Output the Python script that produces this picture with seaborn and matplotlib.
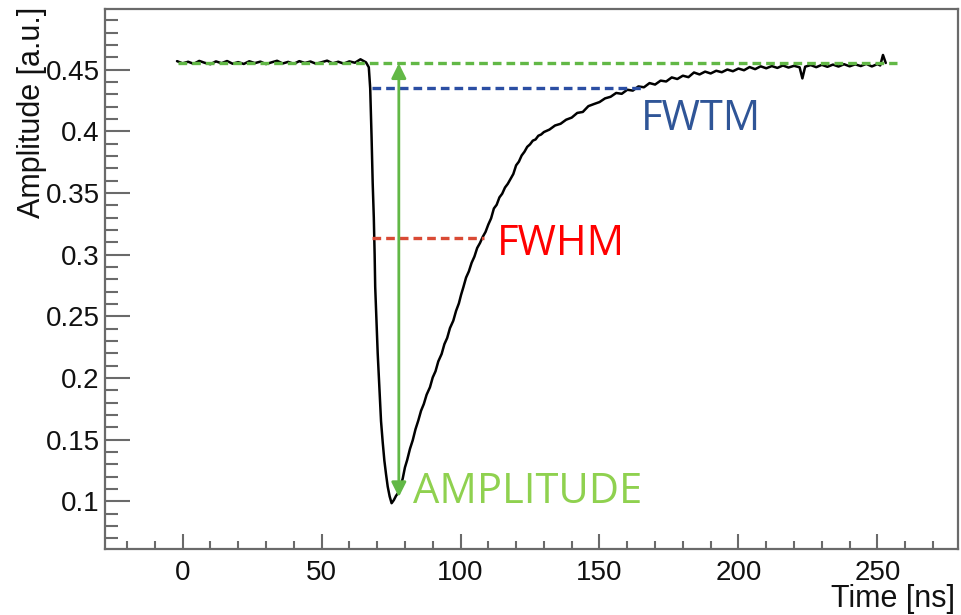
import matplotlib
matplotlib.use("Agg")
import matplotlib.pyplot as plt
import seaborn as sns
import pandas as pd

# ---------------- data ----------------
baseline_time = [-2, 0, 2, 4, 6, 8, 10, 12, 14, 16, 18, 20, 22, 24, 26, 28, 30, 32,
                 34, 36, 38, 40, 42, 44, 46, 48, 50, 52, 54, 56, 58, 60, 62, 64, 66]
baseline_amp = [0.4570, 0.4552, 0.4565, 0.4548, 0.4572, 0.4556, 0.4545, 0.4568, 0.4553,
                0.4571, 0.4549, 0.4562, 0.4547, 0.4569, 0.4554, 0.4566, 0.4546, 0.4560,
                0.4573, 0.4551, 0.4564, 0.4548, 0.4570, 0.4555, 0.4567, 0.4549, 0.4561,
                0.4574, 0.4552, 0.4565, 0.4550, 0.4568, 0.4557, 0.4585, 0.4560]

pulse_time = [67.0, 67.5, 68.0, 68.4, 68.8, 69.1, 69.3, 69.8, 70.2, 70.8, 71.4, 72.0,
              72.6, 73.2, 73.8, 74.5, 75.2, 76.0, 76.8, 77.6, 78.4, 79.2, 80.0, 80.8,
              81.8, 82.8, 83.8, 84.8, 85.8, 86.8, 87.8, 89.0, 90.0, 91.0, 92.0, 93.2,
              94.2, 95.2, 96.2, 97.4, 98.4, 99.4, 100.2, 101.0, 102.0, 103.0, 104.0,
              105.0, 106.0, 107.0, 108.0, 109.0, 110.0, 111.0, 112.0, 113.0, 114.0,
              115.0, 116.0, 117.0, 118.0, 119.0, 120.0, 121.0, 122.0, 123.0, 124.0,
              125.0, 126.0, 127.0, 128.0, 129.0, 130.0]
pulse_amp = [0.4520, 0.4350, 0.3950, 0.3580, 0.3300, 0.3000, 0.2740, 0.2450, 0.2200,
             0.1920, 0.1650, 0.1480, 0.1330, 0.1220, 0.1120, 0.1040, 0.0985, 0.1010,
             0.1045, 0.1070, 0.1120, 0.1185, 0.1275, 0.1335, 0.1425, 0.1495, 0.1585,
             0.1655, 0.1735, 0.1790, 0.1865, 0.1925, 0.2005, 0.2055, 0.2135, 0.2195,
             0.2275, 0.2325, 0.2405, 0.2465, 0.2545, 0.2605, 0.2675, 0.2735, 0.2815,
             0.2865, 0.2935, 0.2985, 0.3055, 0.3095, 0.3145, 0.3185, 0.3245, 0.3295,
             0.3375, 0.3405, 0.3465, 0.3495, 0.3545, 0.3575, 0.3615, 0.3655, 0.3725,
             0.3755, 0.3805, 0.3835, 0.3875, 0.3895, 0.3925, 0.3935, 0.3965, 0.3975,
             0.3995]

tail_time = [132, 134, 136, 138, 140, 142, 144, 146, 148, 150, 152, 154, 156, 158, 160,
             162, 164, 166, 168, 170, 172, 174, 176, 178, 180, 182, 184, 186, 188, 190,
             192, 194, 196, 198, 200, 202, 204, 206, 208, 210, 212, 214, 216, 218, 220,
             222, 223, 224, 226, 228, 230, 232, 234, 236, 238, 240, 242, 244, 246, 248,
             250, 251, 252, 253]
tail_amp = [0.4015, 0.4048, 0.4062, 0.4095, 0.4112, 0.4150, 0.4158, 0.4205, 0.4222,
            0.4238, 0.4268, 0.4281, 0.4312, 0.4305, 0.4338, 0.4331, 0.4365, 0.4358,
            0.4392, 0.4380, 0.4412, 0.4405, 0.4438, 0.4425, 0.4452, 0.4440, 0.4478,
            0.4462, 0.4485, 0.4470, 0.4492, 0.4480, 0.4502, 0.4488, 0.4510, 0.4496,
            0.4522, 0.4505, 0.4528, 0.4512, 0.4530, 0.4515, 0.4535, 0.4518, 0.4532,
            0.4520, 0.4430, 0.4525, 0.4538, 0.4521, 0.4540, 0.4524, 0.4542, 0.4526,
            0.4545, 0.4528, 0.4544, 0.4530, 0.4548, 0.4527, 0.4546, 0.4535, 0.4620,
            0.4555]

# annotation levels
baseline_level = 0.4557
fwtm_level = 0.4349
fwhm_level = 0.3134
peak_level = 0.1035
baseline_span = [-1.6, 257.0]
fwtm_span = [68.2, 165.6]
fwhm_span = [68.2, 108.5]
arrow_time = 77.8

labels = ["FWTM", "FWHM", "AMPLITUDE"]
label_pos = [(164.9, 0.4011), (113.0, 0.2995), (82.8, 0.0986)]

x_ticks = [0, 50, 100, 150, 200, 250]
y_ticks = [0.1, 0.15, 0.2, 0.25, 0.3, 0.35, 0.4, 0.45]
y_ticklabels = ["0.1", "0.15", "0.2", "0.25", "0.3", "0.35", "0.4", "0.45"]
x_minor = [-20, -10, 10, 20, 30, 40, 60, 70, 80, 90, 110, 120, 130, 140, 160, 170,
           180, 190, 210, 220, 230, 240, 260, 270]
y_minor = [0.07, 0.08, 0.09, 0.11, 0.12, 0.13, 0.14, 0.16, 0.17, 0.18, 0.19, 0.21,
           0.22, 0.23, 0.24, 0.26, 0.27, 0.28, 0.29, 0.31, 0.32, 0.33, 0.34, 0.36,
           0.37, 0.38, 0.39, 0.41, 0.42, 0.43, 0.44, 0.46, 0.47, 0.48, 0.49]

# ---------------- figure ----------------
sns.set_theme(style="white")
plt.rcParams["font.family"] = ["Liberation Sans", "DejaVu Sans"]

df = pd.DataFrame({
    "Time": baseline_time + pulse_time + tail_time,
    "Amplitude": baseline_amp + pulse_amp + tail_amp,
})

fig = plt.figure(figsize=(9.61, 6.15), dpi=100)
ax = fig.add_axes([0.1096, 0.1068, 0.8873, 0.878])

frame_col = "#6a6a6a"
for s in ax.spines.values():
    s.set_color(frame_col)
    s.set_linewidth(1.6)

sns.lineplot(data=df, x="Time", y="Amplitude", color="black", linewidth=1.8,
             estimator=None, sort=False, ax=ax, zorder=3)

green = "#62b846"
blue = "#2b4ea3"
red = "#d94a35"
dash = (0, (2.6, 1.5))
ax.plot(baseline_span, [baseline_level, baseline_level], color=green, lw=2.4,
        linestyle=dash, zorder=4)
ax.plot(fwtm_span, [fwtm_level, fwtm_level], color=blue, lw=2.4, linestyle=dash, zorder=4)
ax.plot(fwhm_span, [fwhm_level, fwhm_level], color=red, lw=2.4, linestyle=dash, zorder=4)
ax.annotate("", xy=(arrow_time, baseline_level - 0.0005), xytext=(arrow_time, peak_level),
            arrowprops=dict(arrowstyle="<|-|>", color=green, lw=2.0,
                            mutation_scale=22, shrinkA=0, shrinkB=0), zorder=5)

label_colors = ["#2f5597", "#ff0000", "#8fd14f"]
for lab, (lx, ly), c in zip(labels, label_pos, label_colors):
    ax.text(lx, ly, lab, color=c, fontsize=30, family=["Open Sans", "DejaVu Sans"],
            ha="left", va="baseline", zorder=6)

ax.set_xlim(-27.8, 279)
ax.set_ylim(0.0611, 0.499)
ax.set_xticks(x_ticks)
ax.set_xticklabels([str(v) for v in x_ticks])
ax.set_yticks(y_ticks)
ax.set_yticklabels(y_ticklabels)
ax.set_xticks(x_minor, minor=True)
ax.set_yticks(y_minor, minor=True)

ax.tick_params(axis="both", which="both", direction="in", colors=frame_col,
               labelcolor="#111111", labelsize=20, width=1.5,
               bottom=True, left=True, top=False, right=False)
ax.tick_params(axis="y", which="major", length=18, pad=4)
ax.tick_params(axis="y", which="minor", length=9)
ax.tick_params(axis="x", which="major", length=11, pad=8)
ax.tick_params(axis="x", which="minor", length=6)

ax.set_xlabel("Time [ns]", fontsize=22, loc="right", color="#111111")
ax.xaxis.set_label_coords(0.9965, -0.064)
ax.set_ylabel("Amplitude [a.u.]", fontsize=22, loc="top", color="#111111")
ax.yaxis.set_label_coords(-0.068, 1.005)

fig.savefig("out.png", dpi=100)
